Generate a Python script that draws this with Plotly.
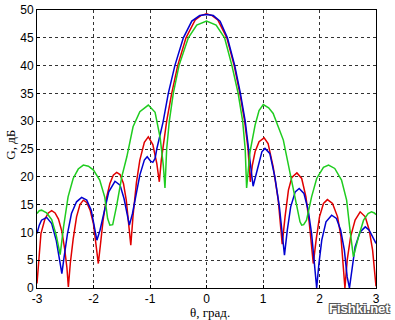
import plotly.graph_objects as go

# ---- data ----
theta_green = [-3.00, -2.96, -2.92, -2.83, -2.74, -2.66, -2.59, -2.53, -2.45, -2.36, -2.27, -2.18, -2.09, -2.00,
               -1.89, -1.80, -1.75, -1.71, -1.66, -1.59, -1.50, -1.41, -1.30, -1.18, -1.03, -0.91, -0.82, -0.765,
               -0.735, -0.705, -0.658, -0.588, -0.487, -0.322, -0.173, 0.00, 0.17, 0.32, 0.45, 0.56, 0.64, 0.685,
               0.71, 0.77, 0.86, 0.93, 1.005, 1.10, 1.18, 1.36, 1.48, 1.57, 1.655, 1.685, 1.72, 1.77, 1.86, 1.95,
               2.07, 2.16, 2.27, 2.39, 2.48, 2.54, 2.60, 2.69, 2.78, 2.86, 2.92, 2.97, 3.00]
g_green = [13.4, 13.9, 14.0, 13.5, 12.3, 9.5, 6.0, 11.0, 16.4, 19.7, 21.4, 22.1, 21.9, 21.2,
           19.4, 16.3, 12.5, 11.3, 11.4, 14.8, 20.0, 23.6, 29.0, 31.7, 32.9, 31.6, 27.0, 22.1,
           18.0, 25.0, 30.0, 35.0, 40.0, 45.0, 47.3, 48.0, 47.3, 45.0, 40.0, 35.0, 30.0, 25.0,
           18.0, 24.5, 29.3, 31.9, 33.0, 32.4, 31.4, 26.6, 20.6, 15.8, 11.9, 11.3, 11.4, 12.2, 16.4, 19.7,
           21.7, 22.1, 21.5, 19.4, 15.8, 10.4, 5.6, 9.2, 12.2, 13.4, 13.7, 13.5, 13.2]

theta_red = [-3.00, -2.97, -2.93, -2.86, -2.80, -2.74, -2.68, -2.62, -2.56, -2.51, -2.47, -2.445, -2.41, -2.36,
             -2.30, -2.24, -2.18, -2.12, -2.06, -2.00, -1.96, -1.915, -1.875, -1.83, -1.77, -1.71, -1.65, -1.59,
             -1.53, -1.47, -1.42, -1.38, -1.34, -1.30, -1.24, -1.18, -1.10, -1.03, -0.95, -0.88, -0.835, -0.80,
             -0.775, -0.705, -0.616, -0.51, -0.363, -0.20, -0.10, 0.00, 0.10, 0.20, 0.36, 0.49, 0.59, 0.675,
             0.735, 0.755, 0.775, 0.81, 0.86, 0.93, 1.02, 1.09, 1.18, 1.27, 1.31, 1.34, 1.39, 1.45, 1.51, 1.60,
             1.685, 1.76, 1.82, 1.86, 1.89, 1.94, 2.00, 2.07, 2.14, 2.23, 2.32, 2.38, 2.42, 2.45, 2.49, 2.55,
             2.63, 2.72, 2.81, 2.88, 2.94, 2.98, 3.00]
g_red = [0.8, 5.5, 9.8, 12.4, 13.5, 13.9, 13.5, 12.4, 10.2, 7.0, 3.6, 0.2, 4.5, 8.8,
         12.8, 15.0, 15.8, 15.4, 14.0, 11.5, 8.6, 4.4, 8.0, 12.2, 16.2, 18.8, 20.3, 20.8,
         20.4, 18.8, 15.8, 12.2, 7.7, 13.0, 19.0, 23.0, 26.2, 27.2, 25.8, 22.4, 19.1, 23.0,
         25.0, 30.0, 35.0, 40.0, 45.0, 48.2, 49.0, 49.3, 49.0, 48.2, 45.0, 40.0, 35.0, 30.0,
         25.0, 22.0, 19.1, 22.0, 24.5, 26.3, 27.0, 26.0, 21.8, 15.8, 11.6, 7.9, 12.8, 17.6, 19.9, 20.7,
         19.7, 16.4, 11.6, 7.4, 4.4, 8.6, 12.8, 15.2, 15.9, 15.2, 12.8, 9.2, 4.4, 0.0, 5.0, 9.2,
         12.2, 13.7, 12.8, 10.4, 6.8, 2.0, 0.3]

theta_blue = [-3.00, -2.96, -2.92, -2.83, -2.74, -2.66, -2.60, -2.56, -2.52, -2.46, -2.39, -2.30, -2.21, -2.12,
              -2.04, -1.985, -1.94, -1.885, -1.81, -1.73, -1.62, -1.53, -1.46, -1.40, -1.365, -1.31, -1.24, -1.18,
              -1.10, -1.05, -0.99, -0.95, -0.91, -0.88, -0.77, -0.676, -0.56, -0.41, -0.26, -0.12, 0.00, 0.12,
              0.24, 0.37, 0.50, 0.60, 0.685, 0.745, 0.795, 0.825, 0.89, 0.98, 1.035, 1.12, 1.21, 1.29, 1.34,
              1.38, 1.43, 1.49, 1.57, 1.64, 1.725, 1.80, 1.86, 1.91, 1.95, 1.99, 2.04, 2.115, 2.215, 2.30,
              2.375, 2.44, 2.49, 2.53, 2.575, 2.63, 2.72, 2.81, 2.88, 2.95, 3.00]
g_blue = [9.8, 11.3, 12.2, 12.7, 11.6, 8.6, 5.0, 2.6, 5.6, 9.8, 13.4, 15.5, 16.3, 15.8,
          14.0, 11.0, 8.6, 10.4, 14.0, 17.3, 19.2, 18.5, 16.1, 13.1, 11.3, 13.4, 16.8, 20.3,
          23.0, 23.6, 22.8, 22.6, 23.3, 25.0, 29.8, 35.0, 40.0, 45.0, 48.0, 49.0, 49.2, 49.0,
          48.0, 45.0, 40.0, 35.0, 30.0, 25.0, 20.0, 18.3, 20.9, 24.5, 25.1, 24.2, 20.0, 14.6, 9.8,
          5.9, 10.4, 14.6, 17.3, 17.9, 17.0, 14.0, 9.8, 4.4, 0.0, 4.4, 8.6, 11.9, 13.1, 12.5,
          10.4, 6.8, 2.0, 0.0, 3.2, 7.4, 10.1, 11.0, 10.4, 8.9, 8.0]

x_ticks = [-3, -2, -1, 0, 1, 2, 3]
x_labels = ["-3", "-2", "-1", "0", "1", "2", "3"]
y_ticks = [0, 5, 10, 15, 20, 25, 30, 35, 40, 45, 50]
y_labels = [str(v) for v in y_ticks]

fig = go.Figure()
fig.add_trace(go.Scatter(x=theta_red, y=g_red, mode="lines",
                         line=dict(color="#e00000", width=1.5), hoverinfo="skip"))
fig.add_trace(go.Scatter(x=theta_blue, y=g_blue, mode="lines",
                         line=dict(color="#0000d0", width=1.5), hoverinfo="skip"))
fig.add_trace(go.Scatter(x=theta_green, y=g_green, mode="lines",
                         line=dict(color="#1fcc1f", width=1.5), hoverinfo="skip"))

tick_font = dict(family="Liberation Sans, Arial, sans-serif", size=12, color="black")
axis_common = dict(showgrid=True, gridcolor="#333333", griddash="dot", gridwidth=1,
                   showline=True, mirror=True, linecolor="black", linewidth=1,
                   zeroline=False, ticks="inside", ticklen=3, tickcolor="black",
                   tickfont=tick_font, automargin=False, ticklabeloverflow="allow")

fig.update_xaxes(range=[-3, 3], tickvals=x_ticks, ticktext=x_labels, **axis_common)
fig.update_yaxes(range=[0, 50], tickvals=y_ticks, ticktext=y_labels, **axis_common)

serif = dict(family="Liberation Serif, Times New Roman, serif", size=13, color="black")
fig.update_layout(
    width=395, height=320,
    margin=dict(l=37, r=19, t=10, b=32),
    paper_bgcolor="white", plot_bgcolor="white",
    showlegend=False,
    annotations=[
        dict(text="θ, град.", xref="paper", yref="paper", x=0.51, y=-0.087,
             xanchor="center", yanchor="middle", showarrow=False, font=serif),
        dict(text="G, дБ", xref="paper", yref="paper", x=-0.078, y=0.514,
             xanchor="center", yanchor="middle", textangle=-90, showarrow=False, font=serif),
        dict(text="<b>Fishki.net</b>", xref="paper", yref="paper", x=0.95, y=-0.073,
             xanchor="center", yanchor="middle", showarrow=False,
             font=dict(family="Liberation Sans, Arial, sans-serif", size=13, color="white",
                       shadow="-1px -1px 0 #555, 1px -1px 0 #555, -1px 1px 0 #555, 1px 1px 0 #555")),
    ],
)

fig.write_html("out.html", config={"displayModeBar": False, "staticPlot": True},
               post_script="document.body.style.margin='0';document.body.style.overflow='hidden';")
